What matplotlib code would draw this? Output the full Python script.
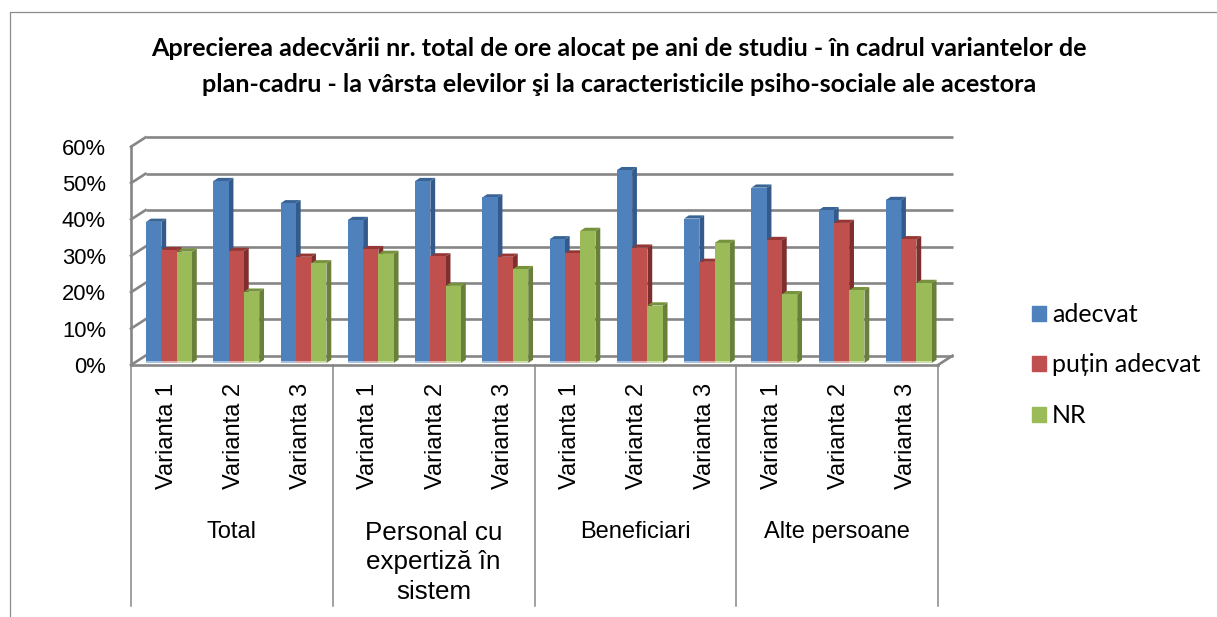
from matplotlib import pyplot as plt
from matplotlib.patches import Polygon, Patch
from matplotlib.lines import Line2D
from matplotlib.transforms import ScaledTranslation

groups = ["Total", "Personal cu\nexpertiză în\nsistem", "Beneficiari", "Alte persoane"]
variants = ["Varianta 1", "Varianta 2", "Varianta 3"]
yticks = [0, 10, 20, 30, 40, 50, 60]
adecvat = [38.8, 50, 43.9, 39.3, 50, 45.5, 34, 53, 39.7, 48.2, 42, 44.8]
putin = [31, 30.8, 29.2, 31.3, 29.3, 29.2, 30.1, 31.7, 27.8, 33.8, 38.5, 34]
nr = [30.6, 19.6, 27.4, 30, 21.2, 25.8, 36.3, 15.8, 33, 18.9, 20, 22]

W, H = 1217, 617
fig = plt.figure(figsize=(W / 100, H / 100), dpi=100)
plt.rcParams['font.family'] = ['Liberation Sans']

# plot area in pixels of the picture
left, right, top, bottom = 131, 938, 146.7, 365
ax = fig.add_axes([left / W, 1 - bottom / H, (right - left) / W, (bottom - top) / H])
ax.set_xlim(-0.5, 11.5)
ax.set_ylim(0, 60)
for s in ax.spines.values():
    s.set_visible(False)

px_x = (right - left) / 12
px_y = (bottom - top) / 60
grid = '#868686'

# walls of the 3d box
wall_dx = 14.5 / px_x
wall_dy = 9.3 / px_y
ax.hlines([v + wall_dy for v in yticks], -0.5 + wall_dx, 11.5 + wall_dx, color=grid, lw=1.9, clip_on=False, zorder=1)
for v in yticks:
    ax.plot([-0.5, -0.5 + wall_dx], [v, v + wall_dy], color=grid, lw=1.9, clip_on=False, zorder=1)
ax.plot([11.5, 11.5 + wall_dx], [0, wall_dy], color=grid, lw=1.9, clip_on=False, zorder=1)
ax.plot([-0.5, -0.5], [0, 60], color=grid, lw=1.9, clip_on=False, zorder=1)

# bars
bar_w = 15.3 / px_x
shift = 4.4 / px_x
base = 2 / px_y
depth_x = 4.8 / px_x
depth_y = 3.2 / px_y
series = [
    (adecvat, -bar_w, '#4F81BD', '#335A8A', '#3A6496', '#A7C0DE'),
    (putin, 0, '#C0504D', '#7E2F2D', '#953735', '#DFA8A6'),
    (nr, bar_w, '#9BBB59', '#68803A', '#76923C', '#CDDDAC'),
]
for vals, off, col, side, cap, light in series:
    for i, v in enumerate(vals):
        x0 = i + shift + off - bar_w / 2
        x1 = x0 + bar_w
        y1 = base + v
        ax.add_patch(Polygon([(x1, base), (x1 + depth_x, base + depth_y), (x1 + depth_x, y1 + depth_y), (x1, y1)],
                             fc=side, ec='none', zorder=2))
        ax.add_patch(Polygon([(x0, y1), (x0 + depth_x, y1 + depth_y), (x1 + depth_x, y1 + depth_y), (x1, y1)],
                             fc=cap, ec='none', zorder=2))
        ax.bar(x0, v, bar_w, bottom=base, align='edge', color=col, zorder=2)
        ax.bar(x0, 0.5, bar_w, bottom=base, align='edge', color=light, zorder=2)

# axis labels
ax.set_yticks(yticks)
ax.set_yticklabels([str(v) + '%' for v in yticks], fontsize=15.8)
ax.tick_params(axis='y', length=0, pad=18)
ax.set_xticks(range(12))
ax.set_xticklabels(variants * 4, rotation=90, fontsize=17)
ax.tick_params(axis='x', length=0, pad=13)
nudge = ScaledTranslation(2 / 100, 0, fig.dpi_scale_trans)
for lab in ax.get_xticklabels():
    lab.set_transform(lab.get_transform() + nudge)

# multi level axis: floor and dividers
div_y = (bottom - 606) / (bottom - top)
tr = ax.get_xaxis_transform()
ax.plot([-0.5, 11.5], [0, 0], color=grid, lw=1.9, transform=tr, clip_on=False, zorder=3)
for g in range(5):
    ax.plot([g * 3 - 0.5] * 2, [0, div_y], color=grid, lw=1.1, transform=tr, clip_on=False, zorder=1)
for g, name in enumerate(groups):
    size = 18.7 if '\n' in name else 17
    ax.text(g * 3 + 1, (bottom - 521) / (bottom - top), name, transform=tr, fontsize=size,
            ha='center', va='top', linespacing=1.28)

# legend
handles = [Patch(color=s[2]) for s in series]
fig.legend(handles, ["adecvat", "puțin adecvat", "NR"], loc='center left',
           bbox_to_anchor=(1032 / W, 1 - 365 / H), frameon=False,
           prop={'family': 'Lato', 'size': 18}, handlelength=0.55, handleheight=0.55,
           handletextpad=0.25, labelspacing=1.1, borderpad=0, borderaxespad=0)

# title
fig.text(619 / W, 1 - 49 / H, "Aprecierea adecvării nr. total de ore alocat pe ani de studiu - în cadrul variantelor de",
         ha='center', va='center', fontsize=18.1, fontweight='bold', family='Lato')
fig.text(619 / W, 1 - 85 / H, "plan-cadru - la vârsta elevilor şi la caracteristicile psiho-sociale ale acestora",
         ha='center', va='center', fontsize=18.1, fontweight='bold', family='Lato')

# outer frame, open on the right and at the bottom
fig.add_artist(Line2D([10 / W, 10 / W, 1], [0, 1 - 12 / H, 1 - 12 / H], color='#8c8c8c', lw=0.9))

fig.savefig('out.png', dpi=100)
